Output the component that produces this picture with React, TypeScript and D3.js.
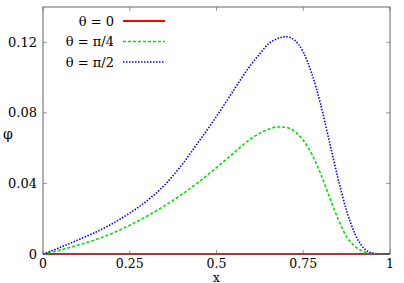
import * as d3 from "d3";
import React, { useEffect, useRef } from "react";

const xs = [0, 0.05, 0.1, 0.15, 0.2, 0.25, 0.3, 0.35, 0.4, 0.45, 0.5, 0.55, 0.6, 0.625, 0.65, 0.675, 0.7, 0.725, 0.75, 0.775, 0.8, 0.825, 0.85, 0.875, 0.9, 0.925, 0.95, 0.975, 1];

const theta0 = xs.map(() => 0);
const thetaPi4 = [0, 0.0023, 0.005, 0.008, 0.0118, 0.0163, 0.0215, 0.0273, 0.0338, 0.041, 0.049, 0.0573, 0.0655, 0.0685, 0.0707, 0.072, 0.0718, 0.0695, 0.0645, 0.0565, 0.0455, 0.0325, 0.02, 0.0098, 0.0042, 0.0013, 0.0002, 0, 0];
const thetaPi2 = [0, 0.0038, 0.0079, 0.0122, 0.0172, 0.0232, 0.0302, 0.039, 0.0505, 0.064, 0.078, 0.093, 0.1075, 0.1135, 0.1192, 0.122, 0.1232, 0.1212, 0.1145, 0.102, 0.085, 0.064, 0.043, 0.0245, 0.011, 0.0032, 0.0005, 0, 0];

const xTicks = [0, 0.25, 0.5, 0.75, 1];
const xTickLabels = ["0", "0.25", "0.5", "0.75", "1"];
const yTicks = [0, 0.04, 0.08, 0.12];
const yTickLabels = ["0", "0.04", "0.08", "0.12"];

const seriesNames = ["θ = 0", "θ = π/4", "θ = π/2"];
const seriesColors = ["#ff0000", "#00e000", "#0000ff"];
const seriesDash = ["none", "3,2", "1.5,1.5"];
const seriesValues = [theta0, thetaPi4, thetaPi2];

const App = () => {
  const svgRef = useRef<SVGSVGElement | null>(null);

  useEffect(() => {
    const svg = d3.select(svgRef.current);
    svg.selectAll("*").remove();

    const width = 404;
    const height = 283;
    const margin = { top: 7, right: 14, bottom: 29, left: 43 };
    const innerWidth = width - margin.left - margin.right;
    const innerHeight = height - margin.top - margin.bottom;
    const font = "'DejaVu Serif', 'Liberation Serif', 'Times New Roman', serif";

    const x = d3.scaleLinear().domain([0, 1]).range([0, innerWidth]);
    const y = d3.scaleLinear().domain([0, 0.14]).range([innerHeight, 0]);

    svg.style("font-family", font);

    const g = svg
      .append("g")
      .attr("transform", `translate(${margin.left},${margin.top})`);

    // ticks on all four sides, pointing inward
    const tickLen = 4;
    xTicks.forEach((t, i) => {
      g.append("line")
        .attr("x1", x(t)).attr("x2", x(t))
        .attr("y1", innerHeight).attr("y2", innerHeight - tickLen)
        .attr("stroke", "#999");
      g.append("line")
        .attr("x1", x(t)).attr("x2", x(t))
        .attr("y1", 0).attr("y2", tickLen)
        .attr("stroke", "#999");
      g.append("text")
        .attr("x", x(t))
        .attr("y", innerHeight + 14)
        .attr("text-anchor", "middle")
        .attr("font-size", 12.5)
        .text(xTickLabels[i]);
    });
    yTicks.forEach((t, i) => {
      g.append("line")
        .attr("x1", 0).attr("x2", tickLen)
        .attr("y1", y(t)).attr("y2", y(t))
        .attr("stroke", "#999");
      g.append("line")
        .attr("x1", innerWidth).attr("x2", innerWidth - tickLen)
        .attr("y1", y(t)).attr("y2", y(t))
        .attr("stroke", "#999");
      g.append("text")
        .attr("x", -6)
        .attr("y", y(t))
        .attr("dy", "0.35em")
        .attr("text-anchor", "end")
        .attr("font-size", 13)
        .text(yTickLabels[i]);
    });

    // curves
    const line = d3
      .line<number>()
      .x((_, i) => x(xs[i]))
      .y((d) => y(d))
      .curve(d3.curveMonotoneX);

    seriesValues.forEach((vals, k) => {
      g.append("path")
        .datum(vals)
        .attr("fill", "none")
        .attr("stroke", seriesColors[k])
        .attr("stroke-width", k === 0 ? 2 : 1.6)
        .attr("stroke-dasharray", seriesDash[k])
        .attr("d", line);
    });

    // frame
    g.append("rect")
      .attr("x", 0)
      .attr("y", 0)
      .attr("width", innerWidth)
      .attr("height", innerHeight)
      .attr("fill", "none")
      .attr("stroke", "#666");

    // legend
    seriesNames.forEach((name, k) => {
      const ly = 14 + k * 20.5;
      g.append("text")
        .attr("x", 71)
        .attr("y", ly)
        .attr("dy", "0.35em")
        .attr("text-anchor", "end")
        .attr("font-size", 13)
        .text(name);
      g.append("line")
        .attr("x1", 80).attr("x2", 122)
        .attr("y1", ly).attr("y2", ly)
        .attr("stroke", seriesColors[k])
        .attr("stroke-width", k === 0 ? 2 : 1.6)
        .attr("stroke-dasharray", seriesDash[k]);
    });

    // axis labels
    svg.append("text")
      .attr("x", margin.left + innerWidth / 2)
      .attr("y", height - 1.5)
      .attr("text-anchor", "middle")
      .attr("font-size", 12)
      .text("x");
    svg.append("text")
      .attr("x", 8)
      .attr("y", 134)
      .attr("dy", "0.35em")
      .attr("text-anchor", "middle")
      .attr("font-size", 14)
      .text("φ");
  }, []);

  return (
    <svg
      ref={svgRef}
      width={404}
      height={283}
      style={{ position: "absolute", left: 0, top: 0, background: "#fff" }}
    />
  );
};

export default App;
